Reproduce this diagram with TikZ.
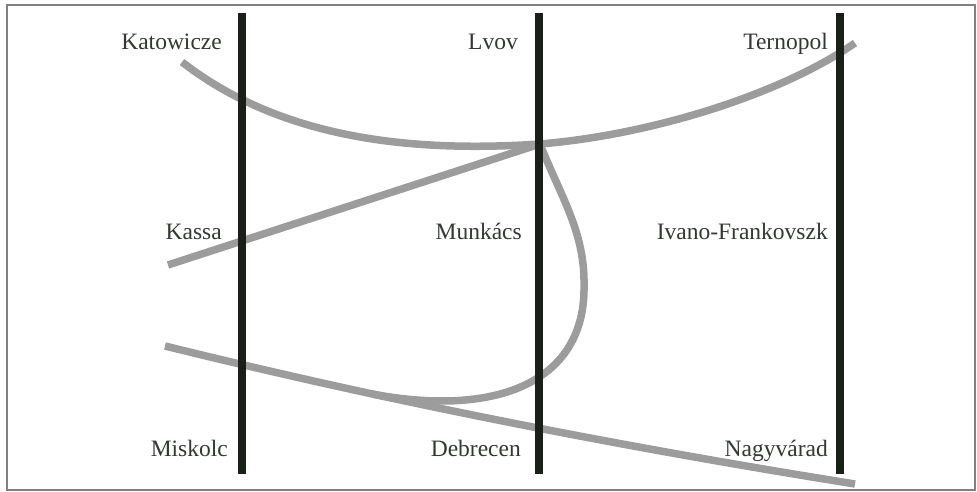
\documentclass[tikz,border=0pt]{standalone}
\usepackage{fontspec}
\setmainfont{Liberation Serif}
\definecolor{railgray}{HTML}{9C9C9C}
\definecolor{borderblack}{HTML}{1A1F1A}
\definecolor{labelgray}{HTML}{333833}
\definecolor{framegray}{HTML}{808080}
\begin{document}
\begin{tikzpicture}[x=1pt,y=-1pt,
  rail/.style={draw=railgray,line width=7.5pt,line cap=butt},
  border/.style={draw=borderblack,line width=8pt,line cap=butt},
  city/.style={anchor=base east,inner sep=0pt,text=labelgray,font=\fontsize{23.5}{28}\selectfont}]
\useasboundingbox (0,0) rectangle (977,492);
\draw[framegray,line width=1.5pt,fill=white] (7,5) rectangle (975,490);
% coordinates
\coordinate (kat) at (182,62);
\coordinate (lvovj) at (540,144);
\coordinate (ter) at (855,43);
\coordinate (kas) at (168,265);
\coordinate (loopmid) at (584,285);
\coordinate (loopend) at (372,394);
\coordinate (mis) at (165,346);
\coordinate (nagy) at (855,484);
\coordinate (b1t) at (242,13); \coordinate (b1b) at (242,474);
\coordinate (b2t) at (539,13); \coordinate (b2b) at (539,474);
\coordinate (b3t) at (840,13); \coordinate (b3b) at (840,474);
% rails
\draw[rail] (kat) .. controls (285,142) and (420,152) .. (lvovj)
  .. controls (650,135) and (780,95) .. (ter);
\draw[rail] (kas) -- (lvovj);
\draw[rail] (lvovj) .. controls (560,195) and (585,232) .. (loopmid)
  .. controls (586,380) and (500,418) .. (loopend);
\draw[rail] (mis) .. controls (395,402.8) and (625,447.2) .. (nagy);
% borders
\draw[border] (b1t) -- (b1b);
\draw[border] (b2t) -- (b2b);
\draw[border] (b3t) -- (b3b);
% labels
\node[city] (katowicze) at (222,50) {Katowicze};
\node[city] (lvov) at (518,50) {Lvov};
\node[city] (ternopol) at (828,50) {Ternopol};
\node[city] (kassa) at (222,239) {Kassa};
\node[city] (munkacs) at (522,239) {Munkács};
\node[city] (ivano) at (828,239) {Ivano-Frankovszk};
\node[city] (miskolc) at (228,456) {Miskolc};
\node[city] (debrecen) at (521,456) {Debrecen};
\node[city] (nagyvarad) at (828,456) {Nagyvárad};
\end{tikzpicture}
\end{document}
